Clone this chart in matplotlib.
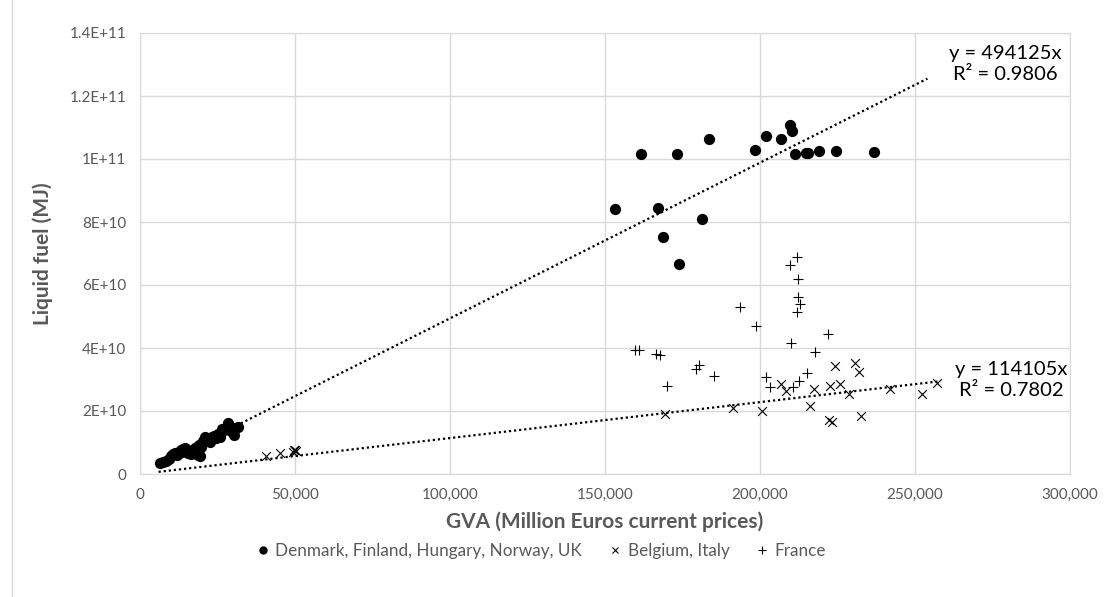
import numpy as np
import matplotlib
matplotlib.use("Agg")
import matplotlib.pyplot as plt
from matplotlib.lines import Line2D

plt.rcParams['font.family'] = ['Lato', 'DejaVu Sans']

# Denmark, Finland, Hungary, Norway, UK (GVA in million EUR, liquid fuel in MJ)
dk_gva = [6450, 7500, 8500, 9200, 10000, 10600, 11200, 12000, 12600, 13100, 13600,
          14000, 14600, 15100, 15600, 16100, 16600, 17100, 17600, 18100, 18600,
          19300, 19600, 19000, 20200, 21000, 22000, 22600, 23200, 24000, 24600,
          25200, 25700, 26500, 27200, 28000, 28400, 29200, 30300, 30800, 31600,
          153200, 161500, 167100, 168800, 173100, 173800, 181400, 183700, 198300,
          201800, 206900, 209600, 210400, 211200, 214800, 215500, 218900, 224400,
          236900]
dk_fuel = [3.6e9, 3.7e9, 4.1e9, 4.9e9, 5.6e9, 6.3e9, 6.6e9, 6.1e9, 7.1e9, 7.6e9, 6.9e9,
           7.9e9, 8.1e9, 7.3e9, 6.6e9, 7.1e9, 6.3e9, 7.6e9, 8.3e9, 6.9e9, 5.9e9,
           5.7e9, 8.6e9, 9.1e9, 10.6e9, 11.6e9, 11.1e9, 10.2e9, 11.9e9, 12.1e9, 11.3e9,
           12.6e9, 11.6e9, 14.3e9, 14.1e9, 14.6e9, 16.2e9, 13.6e9, 12.4e9, 14.5e9, 14.9e9,
           8.42e10, 1.015e11, 8.46e10, 7.52e10, 1.016e11, 6.67e10, 8.09e10, 1.064e11, 1.029e11,
           1.074e11, 1.064e11, 1.109e11, 1.090e11, 1.017e11, 1.020e11, 1.020e11, 1.026e11, 1.024e11,
           1.021e11]

# Belgium, Italy
be_gva = [40600, 45200, 49400, 49900, 50300, 49700,
          169400, 191200, 200600, 206800, 208300, 216000, 217400, 222100, 223300,
          222500, 224300, 225700, 228600, 230500, 231900, 232600, 241900, 252400, 257200]
be_fuel = [5.7e9, 6.8e9, 7.0e9, 7.5e9, 7.3e9, 7.7e9,
           1.89e10, 2.10e10, 2.00e10, 2.86e10, 2.62e10, 2.17e10, 2.70e10, 1.71e10, 1.65e10,
           2.80e10, 3.44e10, 2.85e10, 2.53e10, 3.53e10, 3.24e10, 1.84e10, 2.69e10, 2.53e10, 2.90e10]

# France
fr_gva = [159700, 161000, 166300, 167700, 170100, 179400, 180300, 185200, 193700, 198800,
          202000, 203100, 209800, 211800, 212300, 212300, 212900, 212000, 210100, 210500,
          212700, 215300, 217600, 221900]
fr_fuel = [3.94e10, 3.94e10, 3.82e10, 3.77e10, 2.78e10, 3.33e10, 3.46e10, 3.10e10, 5.30e10, 4.69e10,
           3.07e10, 2.76e10, 6.63e10, 6.89e10, 6.19e10, 5.61e10, 5.39e10, 5.15e10, 4.17e10, 2.76e10,
           2.96e10, 3.21e10, 3.87e10, 4.44e10]

# trendlines (forced through zero, as in the Excel chart)
slope_upper = 494125
slope_lower = 114105
upper_range = [6000, 254000]
lower_range = [6000, 257200]

x_ticks = [0, 50000, 100000, 150000, 200000, 250000, 300000]
x_labels = ["0", "50,000", "100,000", "150,000", "200,000", "250,000", "300,000"]
y_ticks = [0, 2e10, 4e10, 6e10, 8e10, 1e11, 1.2e11, 1.4e11]
y_labels = ["0", "2E+10", "4E+10", "6E+10", "8E+10", "1E+11", "1.2E+11", "1.4E+11"]

grey = "#595959"
grid = "#d9d9d9"

fig = plt.figure(figsize=(11.04, 5.97), dpi=100)
ax = fig.add_axes([140/1104, 1 - 474/597, 930/1104, 441/597])

ax.scatter(dk_gva, dk_fuel, s=50, marker='o', color='black', zorder=3)
ax.scatter(be_gva, be_fuel, s=40, marker='x', color='black', linewidths=0.8, zorder=3)
ax.scatter(fr_gva, fr_fuel, s=44, marker='+', color='black', linewidths=0.8, zorder=3)

xu = np.array(upper_range)
xl = np.array(lower_range)
ax.plot(xu, slope_upper * xu, color='black', lw=1.6, linestyle=(0, (1, 1.3)), zorder=2)
ax.plot(xl, slope_lower * xl, color='black', lw=1.6, linestyle=(0, (1, 1.3)), zorder=2)

ax.set_xlim(0, 300000)
ax.set_ylim(0, 1.4e11)
ax.set_xticks(x_ticks)
ax.set_xticklabels(x_labels)
ax.set_yticks(y_ticks)
ax.set_yticklabels(y_labels)
ax.tick_params(length=0, labelsize=11, labelcolor=grey, pad=10)
ax.grid(True, color=grid, lw=1)
ax.set_axisbelow(True)
for s in ax.spines.values():
    s.set_color(grid)

ax.set_xlabel("GVA (Million Euros current prices)", fontsize=15, fontweight='bold',
              color=grey, labelpad=7)
ax.set_ylabel("Liquid fuel (MJ)", fontsize=15, fontweight='bold', color=grey, labelpad=12)

# trendline labels, placed like Excel puts them (figure coords)
fig.text(1005/1104, 1 - 64/597, "y = 494125x\nR² = 0.9806", fontsize=14.5,
         ha='center', va='center', linespacing=1.25, color='black')
fig.text(1011/1104, 1 - 380/597, "y = 114105x\nR² = 0.7802", fontsize=14.5,
         ha='center', va='center', linespacing=1.25, color='black')

handles = [
    Line2D([], [], marker='o', color='black', linestyle='none', markersize=5),
    Line2D([], [], marker='x', color='black', linestyle='none', markersize=5, markeredgewidth=0.8),
    Line2D([], [], marker='+', color='black', linestyle='none', markersize=6, markeredgewidth=0.8),
]
fig.legend(handles, ["Denmark, Finland, Hungary, Norway, UK", "Belgium, Italy", "France"],
           loc='center', bbox_to_anchor=(541/1104, 1 - 551/597), ncol=3, frameon=False,
           fontsize=12.3, labelcolor=grey, handlelength=0.8, handletextpad=0.35,
           columnspacing=1.5)

fig.add_artist(Line2D([12/1104, 12/1104], [0, 1], color=grid, lw=1))

fig.savefig("out.png", dpi=100)
